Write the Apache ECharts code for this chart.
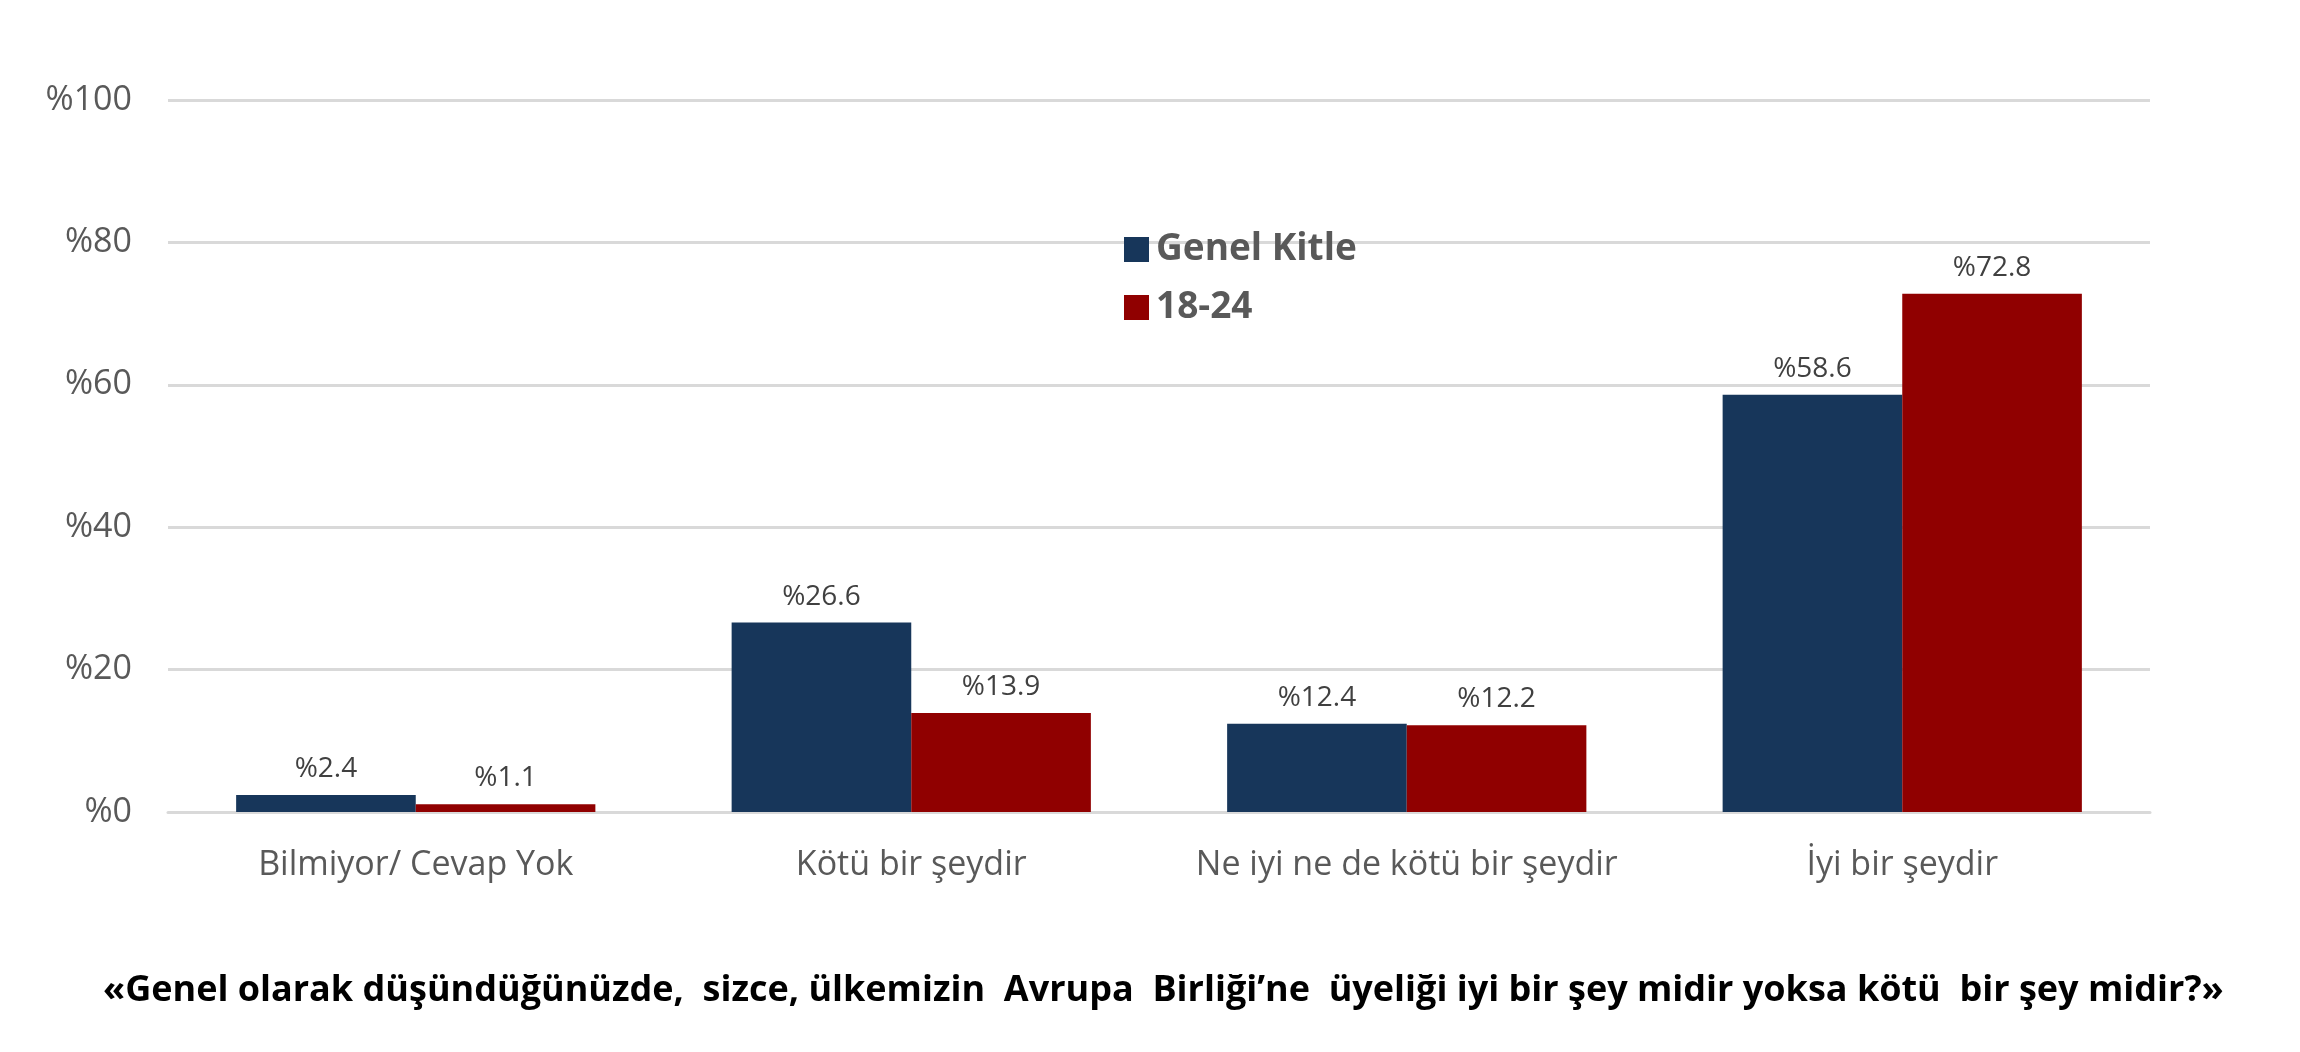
<!DOCTYPE html>
<html>
<head>
<meta charset="utf-8">
<title>Avrupa Birliği üyeliği</title>
<script src="https://cdn.jsdelivr.net/npm/echarts@6/dist/echarts.min.js"></script>
<style>
  html, body { margin: 0; padding: 0; background: #fff; }
  #chart { width: 2300px; height: 1052px; }
</style>
</head>
<body>
<div id="chart"></div>
<script>
// veriler
const categories = ['Bilmiyor/ Cevap Yok', 'Kötü bir şeydir', 'Ne iyi ne de kötü bir şeydir', 'İyi bir şeydir'];
const genelKitle = [2.4, 26.6, 12.4, 58.6];
const gencler = [1.1, 13.9, 12.2, 72.8];
const seriesNames = ['Genel Kitle', '18-24'];
const yTicks = [0, 20, 40, 60, 80, 100];

const chart = echarts.init(document.getElementById('chart'));

const labelStyle = {
  show: true,
  position: 'top',
  distance: 12,
  fontFamily: 'Open Sans',
  fontSize: 28,
  color: '#404040',
  formatter: p => '%' + p.value.toFixed(1)
};

const option = {
  animation: false,
  title: {
    text: '«Genel olarak düşündüğünüzde,  sizce, ülkemizin  Avrupa  Birliği’ne  üyeliği iyi bir şey midir yoksa kötü  bir şey midir?»',
    left: 98,
    top: 968,
    textStyle: {
      fontFamily: 'Open Sans',
      fontWeight: 'bold',
      fontSize: 36,
      color: '#000'
    }
  },
  legend: {
    orient: 'vertical',
    left: 1119,
    top: 226,
    itemWidth: 25,
    itemHeight: 25,
    itemGap: 21,
    icon: 'rect',
    data: seriesNames,
    textStyle: {
      fontFamily: 'Open Sans',
      fontWeight: 'bold',
      fontSize: 37,
      color: '#595959',
      padding: [0, 0, 0, 2]
    }
  },
  grid: { left: 168, right: 150, top: 100, bottom: 240 },
  xAxis: {
    type: 'category',
    data: categories,
    axisLine: { lineStyle: { color: '#d9d9d9', width: 3 } },
    axisTick: { show: false },
    axisLabel: {
      interval: 0,
      margin: 36,
      fontFamily: 'Open Sans',
      fontSize: 34,
      color: '#595959'
    }
  },
  yAxis: {
    type: 'value',
    min: yTicks[0],
    max: yTicks[yTicks.length - 1],
    interval: 20,
    axisLine: { show: false },
    axisTick: { show: false },
    splitLine: { lineStyle: { color: '#d9d9d9', width: 3 } },
    axisLabel: {
      margin: 36,
      fontFamily: 'Open Sans',
      fontSize: 34,
      color: '#595959',
      formatter: v => '%' + v
    }
  },
  series: [
    {
      name: seriesNames[0],
      type: 'bar',
      data: genelKitle,
      barGap: '0%',
      barCategoryGap: '27.5%',
      itemStyle: { color: '#17365a' },
      label: labelStyle
    },
    {
      name: seriesNames[1],
      type: 'bar',
      data: gencler,
      itemStyle: { color: '#900000' },
      label: labelStyle
    }
  ]
};

chart.setOption(option);
</script>
</body>
</html>
